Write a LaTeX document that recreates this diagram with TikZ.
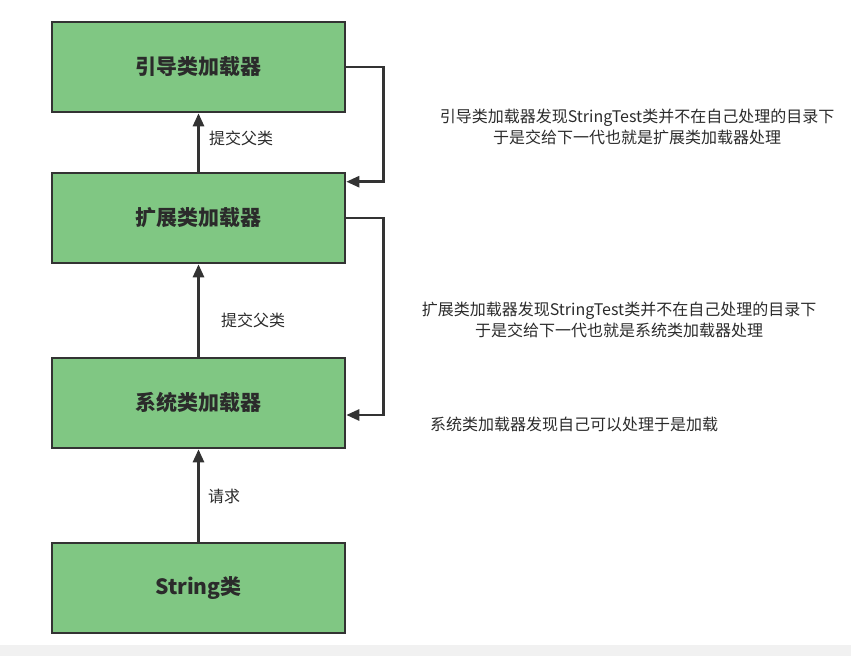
\documentclass[tikz,border=0pt]{standalone}
\usepackage{fontspec}
\usepackage{xcolor}
\usepackage{tikz}
\usetikzlibrary{arrows.meta,positioning}
\setmainfont{Noto Sans CJK SC}
\newfontfamily\cjk{Noto Sans CJK SC}
\definecolor{ldgreen}{HTML}{80C783}
\definecolor{lddark}{HTML}{333333}
\definecolor{ldtext}{HTML}{2B2B2B}
\definecolor{ldband}{HTML}{F1F1F1}
\tikzset{
  loader/.style={draw=lddark,line width=2.6pt,fill=ldgreen,minimum width=293pt,
    minimum height=90pt,inner sep=0pt,font=\cjk\bfseries\fontsize{21}{25}\selectfont,text=ldtext},
  flow/.style={-{Triangle[length=13pt,width=11pt]},line width=2.6pt,draw=lddark},
  edgelabel/.style={font=\cjk\fontsize{16}{19}\selectfont,text=ldtext,anchor=west,inner sep=0pt},
  note/.style={font=\cjk\fontsize{16}{21}\selectfont,text=ldtext,align=center,inner sep=0pt}
}
\begin{document}
\begin{tikzpicture}[x=1pt,y=1pt]
    \useasboundingbox (0,0) rectangle (851,656);
    \fill[ldband] (0,0) rectangle (851,11);
    \node[loader] (str) at (198.5,68) {String类};
    \node[loader,above=92.4pt of str] (sys) {系统类加载器};
    \node[loader,above=92.4pt of sys] (ext) {扩展类加载器};
    \node[loader,above=58.4pt of ext] (boot) {引导类加载器};
    \draw[flow] (str)--(sys);
    \draw[flow] (sys)--(ext);
    \draw[flow] (ext)--(boot);
    \node[edgelabel] (lreq) at (208,160) {请求};
    \node[edgelabel] (lsys) at (221,336) {提交父类};
    \node[edgelabel] (lext) at (209,518) {提交父类};
    \draw[flow] (boot.east)--++(37,0)|-([yshift=-10pt]ext.north east);
    \draw[flow] (ext.east)--++(37,0)|-([yshift=-12pt]sys.east);
    \node[note] (nboot) at (637,529.5) {引导类加载器发现StringTest类并不在自己处理的目录下\\于是交给下一代也就是扩展类加载器处理};
    \node[note] (next) at (619,336) {扩展类加载器发现StringTest类并不在自己处理的目录下\\于是交给下一代也就是系统类加载器处理};
    \node[note] (nsys) at (574,232) {系统类加载器发现自己可以处理于是加载};
  \end{tikzpicture}
\end{document}
